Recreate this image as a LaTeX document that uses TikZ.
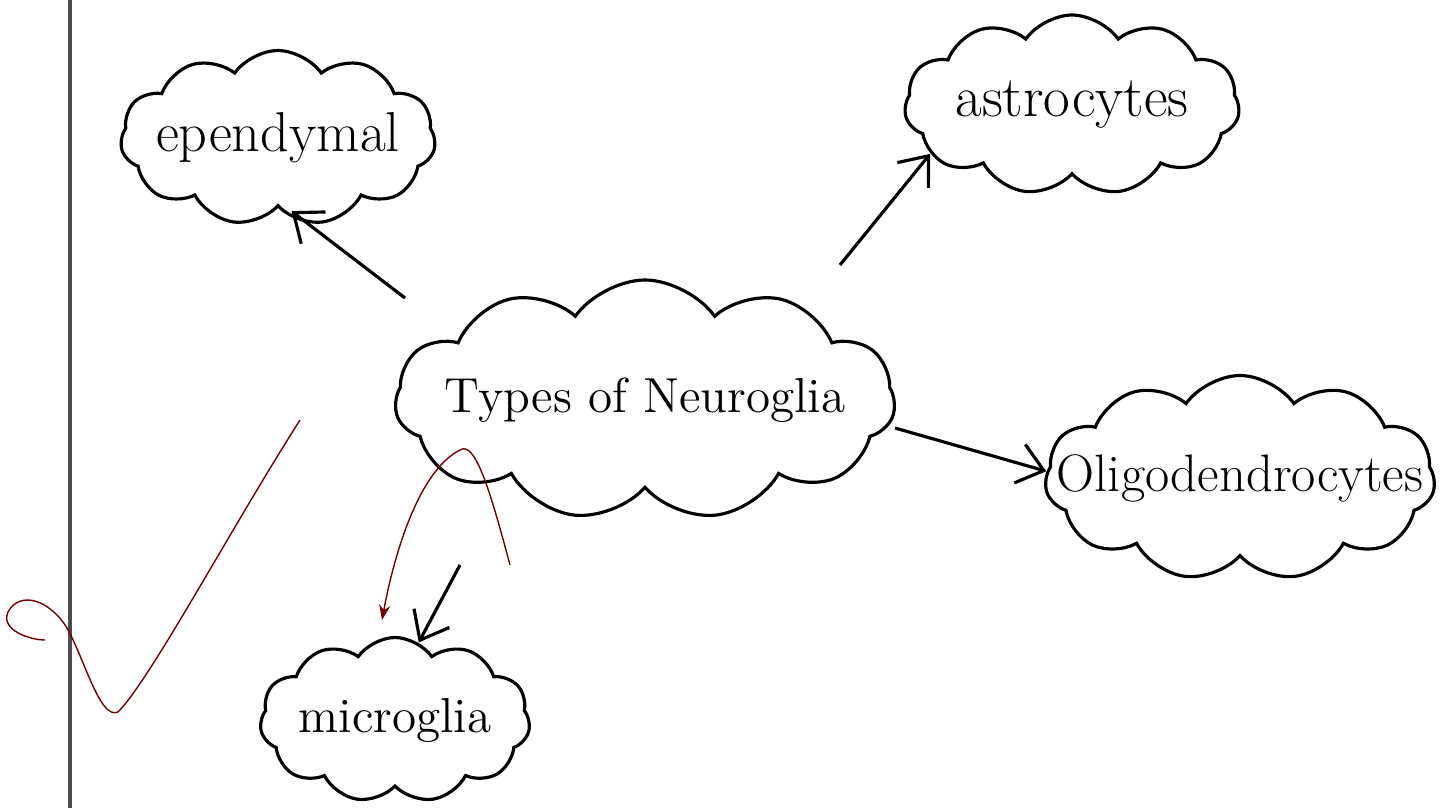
\documentclass[tikz,border=0pt]{standalone}
\usetikzlibrary{shapes.symbols,arrows.meta}
\begin{document}
\begin{tikzpicture}[>={Straight Barb[length=2.5mm,width=4mm]},
    blob/.style={cloud, cloud puffs=11, cloud puff arc=110, cloud ignores aspect, draw, line width=.9pt, inner xsep=-1cm, inner ysep=0pt, font=\fontsize{16}{18}\selectfont},
    link/.style={->, line width=.9pt},
    stray/.style={red!45!black, line width=.4pt}]
\useasboundingbox (0,0) rectangle (14.42,-8.08);
\draw[line width=1pt, black!70](.7,0)--(.7,-8.08);
\node[blob, minimum width=5cm, minimum height=2.4cm, font=\fontsize{14}{16}\selectfont](neuro) at (6.45,-4.0){Types of Neuroglia};
\node[blob, minimum width=3.15cm, minimum height=1.75cm](epend) at (2.78,-1.38){ependymal};
\node[blob, minimum width=3.35cm, minimum height=1.8cm, font=\fontsize{16.5}{18}\selectfont](astro) at (10.72,-1.05){astrocytes};
\node[blob, minimum width=3.9cm, minimum height=2.05cm, font=\fontsize{15}{18}\selectfont](oligo) at (12.4,-4.78){Oligodendrocytes};
\node[blob, minimum width=2.7cm, minimum height=1.65cm, font=\fontsize{14}{16}\selectfont](micro) at (3.95,-7.2){microglia};
% arrow tails, a little off the middle cloud
\coordinate(tE) at (4.05,-2.98);
\coordinate(tA) at (8.4,-2.65);
\coordinate(tO) at (8.95,-4.28);
\coordinate(tM) at (4.6,-5.65);
\draw[link, shorten >=-2mm](tE)--(epend.-71);
\draw[link](tA)--(astro.199);
\draw[link](tO)--(oligo.178);
\draw[link](tM)--(micro.73);
% stray pen marks
\draw[stray](3.0,-4.2) .. controls (2.3,-5.3) and (1.5,-6.8) .. (1.18,-7.12)
    .. controls (1.0,-7.2) and (0.85,-6.6) .. (0.67,-6.28)
    .. controls (0.5,-6.0) and (0.2,-5.9) .. (0.08,-6.12)
    .. controls (0.0,-6.3) and (0.3,-6.4) .. (0.45,-6.4);
\draw[stray,-{Stealth[length=1.5mm]}](5.1,-5.65) .. controls (4.9,-4.9) and (4.75,-4.4) .. (4.6,-4.5)
    .. controls (4.2,-4.7) and (3.95,-5.5) .. (3.82,-6.2);
\end{tikzpicture}
\end{document}
